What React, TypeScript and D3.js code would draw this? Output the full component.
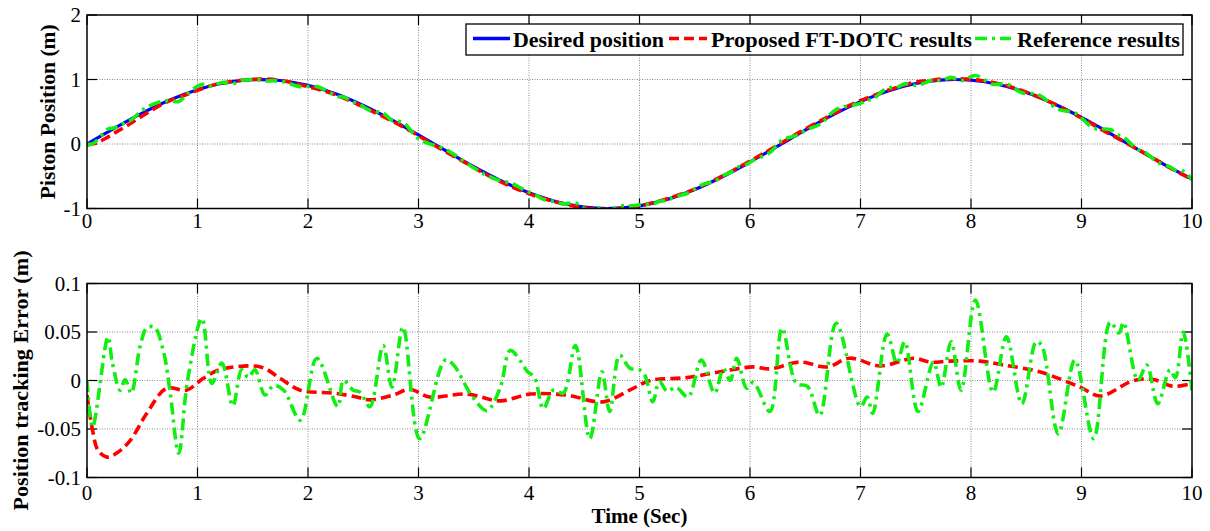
import React from "react";
import * as d3 from "d3";

// ---------- data ----------
const desiredT = [0,0.25,0.5,0.75,1,1.25,1.5,1.75,2,2.25,2.5,2.75,3,3.25,3.5,3.75,4,4.25,4.5,4.75,5,5.25,5.5,5.75,6,6.25,6.5,6.75,7,7.25,7.5,7.75,8,8.25,8.5,8.75,9,9.25,9.5,9.75,10];
const desiredV = [0,0.247,0.479,0.682,0.841,0.949,0.997,0.984,0.909,0.778,0.598,0.382,0.141,-0.108,-0.351,-0.572,-0.757,-0.895,-0.978,-0.999,-0.959,-0.859,-0.706,-0.508,-0.279,-0.033,0.215,0.451,0.657,0.823,0.938,0.995,0.989,0.923,0.798,0.624,0.412,0.174,-0.075,-0.319,-0.544];

const propErrT = [0,0.05,0.1,0.18,0.28,0.39,0.54,0.72,0.9,1.05,1.2,1.57,1.75,1.93,2.23,2.44,2.56,2.77,2.92,3.1,3.44,3.74,4.01,4.34,4.67,4.91,5.1,5.43,5.73,6.03,6.18,6.45,6.7,6.9,7.18,7.48,7.63,7.81,8.08,8.29,8.62,8.99,9.17,9.47,9.65,9.83,10];
const propErrV = [-0.015,-0.051,-0.072,-0.079,-0.074,-0.062,-0.034,-0.008,-0.010,0.002,0.011,0.014,0.002,-0.010,-0.013,-0.017,-0.020,-0.015,-0.009,-0.017,-0.014,-0.021,-0.014,-0.015,-0.022,-0.010,0,0.003,0.009,0.014,0.012,0.019,0.014,0.023,0.015,0.023,0.019,0.020,0.020,0.016,0.009,-0.007,-0.016,0,0.001,-0.006,-0.003];

const refErrT = [0,0.05,0.19,0.23,0.30,0.345,0.40,0.48,0.54,0.61,0.69,0.75,0.83,0.91,1.04,1.13,1.22,1.32,1.40,1.46,1.52,1.61,1.69,1.78,1.93,2.08,2.27,2.32,2.41,2.47,2.56,2.68,2.76,2.86,3.01,3.24,3.31,3.49,3.62,3.74,3.83,3.93,3.98,4.05,4.13,4.22,4.31,4.42,4.55,4.66,4.73,4.82,4.91,5.03,5.12,5.18,5.25,5.33,5.44,5.56,5.68,5.76,5.82,5.88,5.97,6.03,6.18,6.29,6.42,6.52,6.63,6.78,7.0,7.06,7.11,7.24,7.33,7.40,7.52,7.66,7.73,7.82,7.91,8.04,8.20,8.32,8.46,8.59,8.64,8.79,8.94,9.11,9.26,9.34,9.38,9.51,9.59,9.69,9.80,9.85,9.92,10.0];
const refErrV = [0,-0.048,0.045,0.018,-0.010,0.001,-0.013,0.035,0.054,0.055,0.031,-0.010,-0.075,0,0.064,-0.003,0.018,-0.026,0.011,0.003,0.011,-0.015,-0.005,-0.010,-0.041,0.023,-0.027,0.0,-0.010,-0.012,-0.027,0.036,-0.007,0.055,-0.060,0.021,0.017,-0.017,-0.031,-0.007,0.031,0.019,0.010,0.003,-0.029,-0.010,-0.013,0.036,-0.060,0.009,-0.032,0.026,0.013,0.009,-0.022,-0.001,-0.011,-0.007,-0.017,0.021,-0.013,0.012,0.0,0.023,-0.008,-0.002,-0.032,0.054,-0.003,-0.006,-0.036,0.059,-0.027,-0.017,-0.034,0.048,0.018,0.040,-0.032,0.019,-0.007,0.040,-0.010,0.083,-0.012,0.045,-0.024,0.040,0.036,-0.055,0.021,-0.060,0.060,0.049,0.060,0.0,0.016,-0.024,0.011,0.003,0.050,-0.010];

const xTicks = [0,1,2,3,4,5,6,7,8,9,10];
const topYTicks = [-1,0,1,2];
const botYTicks = [-0.1,-0.05,0,0.05,0.1];
const botYTickLabels = ["-0.1","-0.05","0","0.05","0.1"];

const legendLabels = ["Desired position","Proposed FT-DOTC results","Reference results"];

// ---------- layout ----------
const W = 1210, H = 531;
const L = 87, R = 1192;
const top1 = 15, bot1 = 208.5;
const top2 = 283.5, bot2 = 477.5;
const FONT = "'Liberation Serif','Times New Roman',serif";
const BLUE = "#0000ff", RED = "#ff0000", GREEN = "#11ee11";

const x = d3.scaleLinear().domain([0, 10]).range([L, R]);
const y1 = d3.scaleLinear().domain([-1, 2]).range([bot1, top1]);
const y2 = d3.scaleLinear().domain([-0.1, 0.1]).range([bot2, top2]);

const desiredAt = d3.scaleLinear().domain(desiredT).range(desiredV);

type P = [number, number];
const desiredPts: P[] = desiredT.map((t, i) => [t, desiredV[i]]);
const propPts: P[] = propErrT.map((t, i) => [t, desiredAt(t) + propErrV[i]]);
const refPts: P[] = refErrT.map((t, i) => [t, desiredAt(t) + refErrV[i]]);
const propErrPts: P[] = propErrT.map((t, i) => [t, propErrV[i]]);
const refErrPts: P[] = refErrT.map((t, i) => [t, refErrV[i]]);

const line1 = d3.line<P>().x(d => x(d[0])).y(d => y1(d[1])).curve(d3.curveCatmullRom.alpha(0.5));
const line2 = d3.line<P>().x(d => x(d[0])).y(d => y2(d[1])).curve(d3.curveCatmullRom.alpha(0.5));

const RED_DASH = "10,5";
const GREEN_DASH = "12,5,3,5";

function Axes({ top, bot, yScale, yTicks, yLabels, gridY, xLabelBaseline, clipId }: any) {
  const tl = 10;
  return (
    <g>
      {xTicks.slice(1, -1).map(t => (
        <line key={"gx" + t} x1={x(t)} x2={x(t)} y1={top} y2={bot} stroke="#8a8a8a" strokeWidth={1} strokeDasharray="1,1.5" />
      ))}
      {gridY.map((v: number) => (
        <line key={"gy" + v} x1={L} x2={R} y1={yScale(v)} y2={yScale(v)} stroke="#8a8a8a" strokeWidth={1} strokeDasharray="1,1.5" />
      ))}
      {xTicks.map(t => (
        <g key={"tx" + t}>
          <line x1={x(t)} x2={x(t)} y1={bot} y2={bot - tl} stroke="#000" strokeWidth={1.2} />
          <line x1={x(t)} x2={x(t)} y1={top} y2={top + tl} stroke="#000" strokeWidth={1.2} />
          <text x={x(t)} y={xLabelBaseline} textAnchor="middle" fontFamily={FONT} fontSize={21} fill="#000">{t}</text>
        </g>
      ))}
      {yTicks.map((v: number, i: number) => (
        <g key={"ty" + v}>
          <line x1={L} x2={L + tl} y1={yScale(v)} y2={yScale(v)} stroke="#000" strokeWidth={1.2} />
          <line x1={R} x2={R - tl} y1={yScale(v)} y2={yScale(v)} stroke="#000" strokeWidth={1.2} />
          <text x={81} y={yScale(v) + 7} textAnchor="end" fontFamily={FONT} fontSize={21} fill="#000">{yLabels[i]}</text>
        </g>
      ))}
      <clipPath id={clipId}>
        <rect x={L} y={top} width={R - L} height={bot - top} />
      </clipPath>
    </g>
  );
}

export default function App() {
  return (
    <div style={{ position: "absolute", left: 0, top: 0, width: W, height: H, background: "#fff" }}>
      <svg width={W} height={H} viewBox={`0 0 ${W} ${H}`} style={{ display: "block" }}>
        <rect x={0} y={0} width={W} height={H} fill="#fff" />

        {/* ---------- top plot ---------- */}
        <Axes top={top1} bot={bot1} yScale={y1} yTicks={topYTicks} yLabels={topYTicks.map(String)} gridY={[0, 1]} xLabelBaseline={228} clipId="c1" />
        <g clipPath="url(#c1)">
          <path d={line1(desiredPts) || ""} fill="none" stroke={BLUE} strokeWidth={3.2} />
          <path d={line1(propPts) || ""} fill="none" stroke={RED} strokeWidth={3.6} strokeDasharray={RED_DASH} />
          <path d={line1(refPts) || ""} fill="none" stroke={GREEN} strokeWidth={3.6} strokeDasharray={GREEN_DASH} />
        </g>
        <rect x={L} y={top1} width={R - L} height={bot1 - top1} fill="none" stroke="#000" strokeWidth={1.5} />

        {/* legend */}
        <g>
          <rect x={466} y={24} width={717} height={31} fill="#fff" stroke="#000" strokeWidth={1.3} />
          <line x1={473} x2={510} y1={38.5} y2={38.5} stroke={BLUE} strokeWidth={3.6} />
          <text x={513} y={47} fontFamily={FONT} fontWeight="bold" fontSize={22} textLength={151} lengthAdjust="spacingAndGlyphs">{legendLabels[0]}</text>
          <line x1={669} x2={707} y1={38.5} y2={38.5} stroke={RED} strokeWidth={3.6} strokeDasharray={RED_DASH} />
          <text x={711} y={47} fontFamily={FONT} fontWeight="bold" fontSize={22} textLength={261} lengthAdjust="spacingAndGlyphs">{legendLabels[1]}</text>
          <line x1={975} x2={1011} y1={38.5} y2={38.5} stroke={GREEN} strokeWidth={3.6} strokeDasharray={GREEN_DASH} />
          <text x={1017} y={47} fontFamily={FONT} fontWeight="bold" fontSize={22} textLength={163} lengthAdjust="spacingAndGlyphs">{legendLabels[2]}</text>
        </g>

        <text transform={`translate(54.5,${(top1 + bot1) / 2}) rotate(-90)`} textAnchor="middle" fontFamily={FONT} fontWeight="bold" fontSize={22} textLength={175} lengthAdjust="spacingAndGlyphs">Piston Position (m)</text>

        {/* ---------- bottom plot ---------- */}
        <Axes top={top2} bot={bot2} yScale={y2} yTicks={botYTicks} yLabels={botYTickLabels} gridY={[-0.05, 0, 0.05]} xLabelBaseline={500} clipId="c2" />
        <g clipPath="url(#c2)">
          <path d={line2(propErrPts) || ""} fill="none" stroke={RED} strokeWidth={3.6} strokeDasharray={RED_DASH} />
          <path d={line2(refErrPts) || ""} fill="none" stroke={GREEN} strokeWidth={3.6} strokeDasharray={GREEN_DASH} />
        </g>
        <rect x={L} y={top2} width={R - L} height={bot2 - top2} fill="none" stroke="#000" strokeWidth={1.5} />

        <text transform={`translate(27.5,${(top2 + bot2) / 2}) rotate(-90)`} textAnchor="middle" fontFamily={FONT} fontWeight="bold" fontSize={22} textLength={260} lengthAdjust="spacingAndGlyphs">Position tracking Error (m)</text>

        <text x={(L + R) / 2} y={523} textAnchor="middle" fontFamily={FONT} fontWeight="bold" fontSize={21}>Time (Sec)</text>
      </svg>
    </div>
  );
}
